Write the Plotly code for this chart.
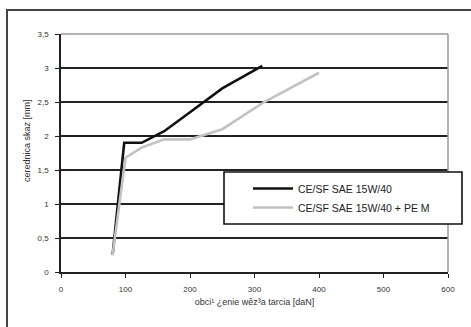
import plotly.graph_objects as go

# Data
black_x = [80, 98, 125, 160, 200, 250, 312]
black_y = [0.25, 1.9, 1.9, 2.07, 2.35, 2.7, 3.03]
gray_x = [80, 100, 125, 160, 200, 250, 315, 400]
gray_y = [0.25, 1.68, 1.83, 1.95, 1.95, 2.1, 2.5, 2.93]
series_names = ["CE/SF SAE 15W/40", "CE/SF SAE 15W/40 + PE M"]
x_ticks = [0, 100, 200, 300, 400, 500, 600]
y_ticks = [0, 0.5, 1, 1.5, 2, 2.5, 3, 3.5]
x_title = "obci¹ ¿enie wêz³a tarcia [daN]"
y_title = "cerednica skaz [mm]"

W, H = 471, 327
ml, mr, mt, mb = 61, 23, 34, 55
pw, ph = W - ml - mr, H - mt - mb

def px_x(p):
    return (p - ml) / pw

def px_y(p):
    return (H - mb - p) / ph

FONT = "Liberation Sans, Arial, sans-serif"

fig = go.Figure()
fig.add_trace(go.Scatter(x=black_x, y=black_y, mode="lines", name=series_names[0],
                         line=dict(color="#111111", width=2.6)))
fig.add_trace(go.Scatter(x=gray_x, y=gray_y, mode="lines", name=series_names[1],
                         line=dict(color="#c2c2c2", width=2.6)))

fig.update_layout(
    width=W, height=H,
    margin=dict(l=ml, r=mr, t=mt, b=mb, autoexpand=False),
    paper_bgcolor="white", plot_bgcolor="white",
    separators=", ",
    font=dict(family=FONT, size=8, color="#333333"),
    showlegend=True,
    legend=dict(x=px_x(248), y=px_y(174), xanchor="left", yanchor="top",
                bgcolor="rgba(0,0,0,0)", borderwidth=0,
                font=dict(family=FONT, size=10.5, color="#222222"),
                tracegroupgap=4, itemwidth=40),
    xaxis=dict(range=[0, 600], tickvals=x_ticks, showgrid=False, zeroline=False,
               automargin=False,
               showline=True, linecolor="#222222", linewidth=1.5,
               ticks="outside", ticklen=4, tickcolor="#222222", tickwidth=1.2,
               ticklabelstandoff=5,
               title=dict(text=x_title, font=dict(family=FONT, size=9, color="#333333"), standoff=5)),
    yaxis=dict(range=[0, 3.5], tickvals=y_ticks, tickformat=".1~f", showgrid=True,
               automargin=False,
               gridcolor="#222222", gridwidth=1.5, zeroline=False,
               showline=True, linecolor="#222222", linewidth=1.5,
               ticks="outside", ticklen=4, tickcolor="#222222", tickwidth=1.2,
               ticklabelstandoff=5),
    shapes=[
        # plot area top and right border (gray)
        dict(type="line", xref="paper", yref="paper", x0=0, x1=1, y0=1, y1=1,
             line=dict(color="#9a9a9a", width=1.5), layer="above"),
        dict(type="line", xref="paper", yref="paper", x0=1, x1=1, y0=0, y1=1,
             line=dict(color="#9a9a9a", width=1.5), layer="above"),
        # legend box
        dict(type="rect", xref="paper", yref="paper",
             x0=px_x(224), x1=px_x(462), y0=px_y(224), y1=px_y(172),
             fillcolor="white", line=dict(color="#111111", width=1.6), layer="above"),
        # outer chart border (cropped)
        dict(type="rect", xref="paper", yref="paper",
             x0=px_x(7), x1=px_x(490), y0=px_y(345), y1=px_y(10),
             fillcolor="rgba(0,0,0,0)", line=dict(color="#444444", width=2), layer="above"),
    ],
    annotations=[
        dict(text=y_title, xref="paper", yref="paper", x=px_x(27), y=px_y(141),
             textangle=-90, showarrow=False, xanchor="center", yanchor="middle",
             font=dict(family=FONT, size=9, color="#333333")),
    ],
)

fig.write_html("out.html", config={"displayModeBar": False},
               post_script="document.body.style.margin='0';document.body.style.overflow='hidden';")
